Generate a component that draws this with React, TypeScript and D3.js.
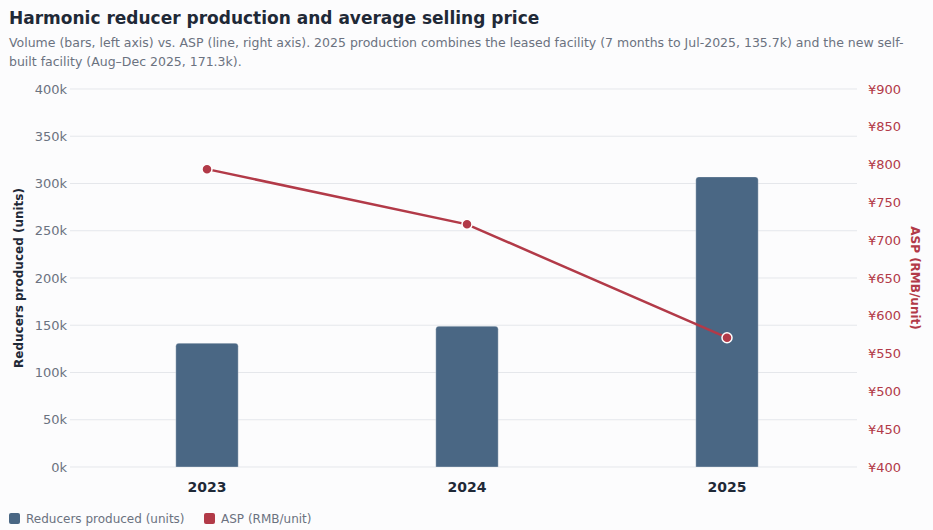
import { useEffect, useRef } from "react";
import * as d3 from "d3";

const years = ["2023", "2024", "2025"];
const production = [131000, 149000, 307000];
const asp = [794, 721, 571];
const leftTicks = [0, 50000, 100000, 150000, 200000, 250000, 300000, 350000, 400000];
const rightTicks = [400, 450, 500, 550, 600, 650, 700, 750, 800, 850, 900];

const BAR = "#4a6784";
const LINE = "#b23a48";

export default function App() {
  const svgRef = useRef(null);

  useEffect(() => {
    document.body.style.margin = "0";
    document.body.style.background = "#fcfcfd";

    const width = 933;
    const height = 530;
    const margin = { top: 89, right: 76, bottom: 63, left: 77 };
    const font = "'DejaVu Sans', sans-serif";

    const svg = d3.select(svgRef.current);
    svg.selectAll("*").remove();
    svg.attr("width", width).attr("height", height).style("font-family", font);

    const x = d3.scaleBand()
      .domain(years)
      .range([margin.left, width - margin.right])
      .paddingInner(0.76)
      .paddingOuter(0.38);

    const y = d3.scaleLinear()
      .domain([0, 400000])
      .range([height - margin.bottom, margin.top]);

    const y2 = d3.scaleLinear()
      .domain([400, 900])
      .range([height - margin.bottom, margin.top]);

    // title
    svg.append("text")
      .attr("x", 9).attr("y", 24)
      .attr("font-size", 17).attr("font-weight", "bold")
      .attr("fill", "#1f2937")
      .text("Harmonic reducer production and average selling price");

    const sub = svg.append("text")
      .attr("x", 9).attr("y", 47)
      .attr("font-size", 12.5).attr("fill", "#6b7280");
    sub.append("tspan").attr("x", 9).attr("dy", 0)
      .text("Volume (bars, left axis) vs. ASP (line, right axis). 2025 production combines the leased facility (7 months to Jul-2025, 135.7k) and the new self-");
    sub.append("tspan").attr("x", 9).attr("dy", 19)
      .text("built facility (Aug–Dec 2025, 171.3k).");

    // grid
    svg.append("g")
      .selectAll("line")
      .data(leftTicks)
      .join("line")
      .attr("x1", 70).attr("x2", 857)
      .attr("y1", d => y(d)).attr("y2", d => y(d))
      .attr("stroke", "#e5e7eb").attr("stroke-width", 1);

    // left axis
    const la = svg.append("g")
      .attr("transform", `translate(67,0)`)
      .call(d3.axisLeft(y).tickValues(leftTicks).tickSize(0).tickPadding(0).tickFormat(d => `${(d as number) / 1000}k`));
    la.select(".domain").remove();
    la.selectAll("text").attr("font-size", 13).attr("fill", "#6b7280").attr("font-family", font);

    // right axis
    const ra = svg.append("g")
      .attr("transform", `translate(868,0)`)
      .call(d3.axisRight(y2).tickValues(rightTicks).tickSize(0).tickPadding(0).tickFormat(d => `¥${d}`));
    ra.select(".domain").remove();
    ra.selectAll("text").attr("font-size", 13).attr("fill", LINE).attr("font-family", font);

    // x axis
    const xa = svg.append("g")
      .attr("transform", `translate(0,${height - margin.bottom + 10})`)
      .call(d3.axisBottom(x).tickSize(0).tickPadding(0));
    xa.select(".domain").remove();
    xa.selectAll("text").attr("font-size", 14).attr("font-weight", "bold")
      .attr("fill", "#1f2937").attr("font-family", font).attr("dy", "1.1em");

    // axis titles
    svg.append("text")
      .attr("transform", `translate(23,278) rotate(-90)`)
      .attr("text-anchor", "middle")
      .attr("font-size", 12).attr("font-weight", "bold").attr("fill", "#1f2937")
      .text("Reducers produced (units)");

    svg.append("text")
      .attr("transform", `translate(911,278) rotate(90)`)
      .attr("text-anchor", "middle")
      .attr("font-size", 12).attr("font-weight", "bold").attr("fill", LINE)
      .text("ASP (RMB/unit)");

    // bars with rounded top corners
    const r = 3;
    svg.append("g")
      .selectAll("path")
      .data(years)
      .join("path")
      .attr("d", (d, i) => {
        const x0 = x(d)!;
        const w = x.bandwidth();
        const yt = y(production[i]);
        const yb = y(0);
        return `M${x0},${yb}V${yt + r}Q${x0},${yt} ${x0 + r},${yt}H${x0 + w - r}Q${x0 + w},${yt} ${x0 + w},${yt + r}V${yb}Z`;
      })
      .attr("fill", BAR)
      .attr("stroke", "#ffffff").attr("stroke-opacity", 0.3).attr("stroke-width", 1);

    // line
    const pts = years.map((d, i) => [x(d)! + x.bandwidth() / 2, y2(asp[i])] as [number, number]);
    svg.append("path")
      .datum(pts)
      .attr("fill", "none")
      .attr("stroke", LINE)
      .attr("stroke-width", 2.5)
      .attr("d", d3.line());

    svg.append("g")
      .selectAll("circle")
      .data(pts)
      .join("circle")
      .attr("cx", d => d[0]).attr("cy", d => d[1])
      .attr("r", 5)
      .attr("fill", LINE)
      .attr("stroke", "#ffffff").attr("stroke-width", 1.5);

    // legend
    const legend = [
      { label: "Reducers produced (units)", color: BAR, x: 9 },
      { label: "ASP (RMB/unit)", color: LINE, x: 204 },
    ];
    const lg = svg.append("g").selectAll("g").data(legend).join("g")
      .attr("transform", d => `translate(${d.x},513)`);
    lg.append("rect").attr("width", 11).attr("height", 11).attr("rx", 2).attr("fill", d => d.color);
    lg.append("text").attr("x", 17).attr("y", 10)
      .attr("font-size", 12).attr("fill", "#6b7280")
      .text(d => d.label);
  }, []);

  return <svg ref={svgRef} style={{ display: "block" }}></svg>;
}
